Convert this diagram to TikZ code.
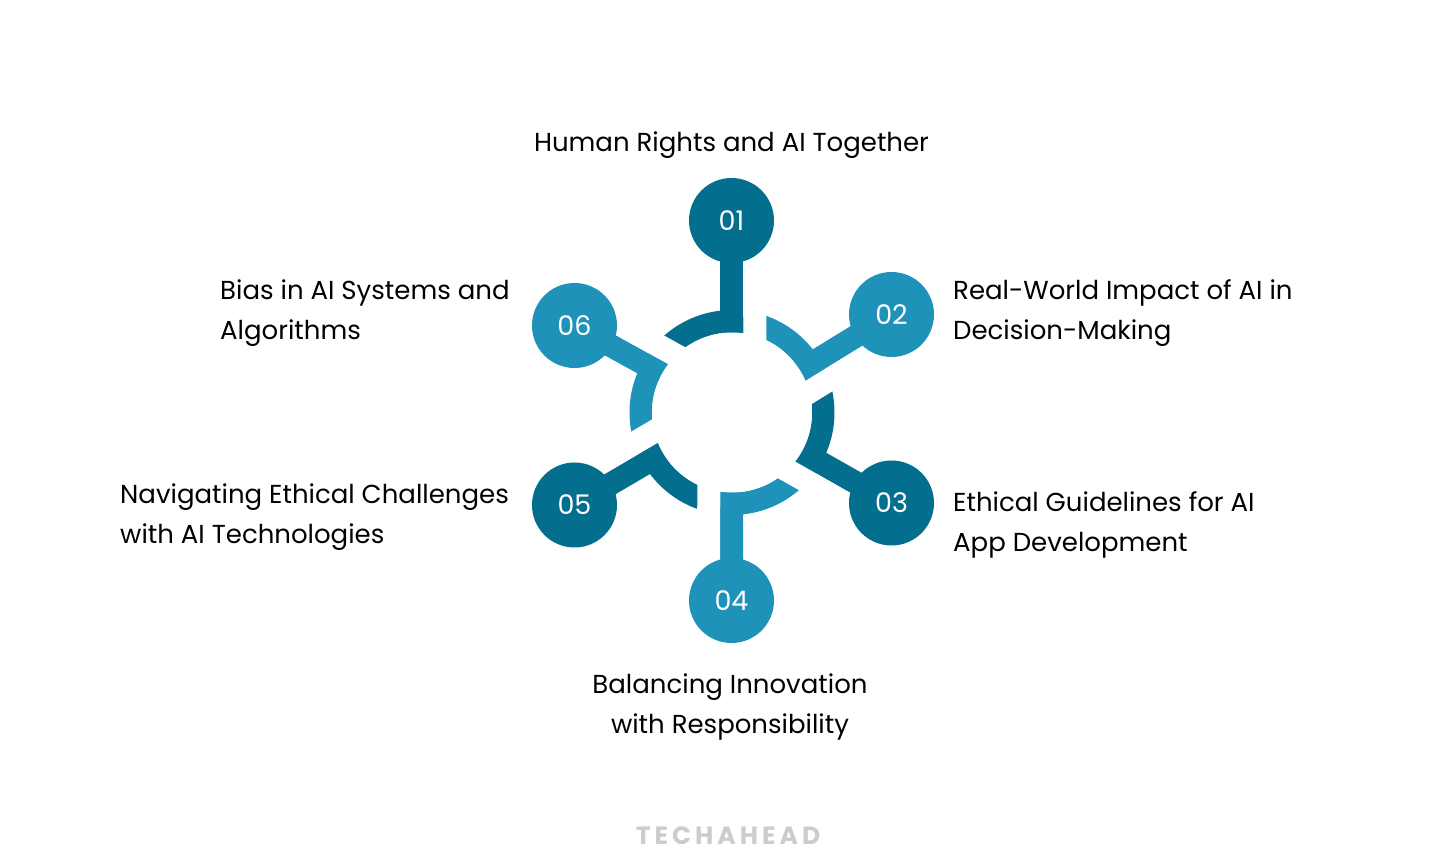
\documentclass[tikz,border=0pt]{standalone}
\usepackage{fontspec}
\setmainfont{Poppins}
\newfontfamily\markfont[LetterSpace=16]{Poppins}
\usetikzlibrary{calc}
\definecolor{darkteal}{RGB}{4,110,143}
\definecolor{lightteal}{RGB}{30,146,184}
\definecolor{markgray}{RGB}{204,204,204}
\begin{document}
\begin{tikzpicture}[x=1pt,y=1pt,line join=round,
	num/.style={circle,minimum size=85pt,inner sep=0pt,text=white,font=\fontsize{27}{27}\selectfont},
	stem/.style={line width=23pt},
	gap/.style={white,line width=23pt},
	itemtext/.style={align=left,inner sep=0pt,font=\fontsize{26}{40}\selectfont}]
	\useasboundingbox (-732,-453.5) rectangle (724,412.5);
	\coordinate (o) at (0,0);
	\coordinate (p1) at (-0.5,192);
	\coordinate (p2) at (159.5,98);
	\coordinate (p3) at (159.5,-90.5);
	\coordinate (p4) at (-0.5,-188);
	\coordinate (p5) at (-157.5,-92.5);
	\coordinate (p6) at (-157.5,87);
	% ring pieces
	\foreach \a/\c in {90/darkteal,30/lightteal,-30/darkteal,-90/lightteal,-150/darkteal,150/lightteal}
		\fill[\c] (\a:102.5) arc[start angle=\a,delta angle=60,radius=102.5]
		-- ({\a+60}:80) arc[start angle={\a+60},delta angle=-60,radius=80] -- cycle;
	% stems
	\draw[stem,darkteal] (o) -- (p1);
	\draw[stem,lightteal] (o) -- (p2);
	\draw[stem,darkteal] (o) -- (p3);
	\draw[stem,lightteal] (o) -- (p4);
	\draw[stem,darkteal] (o) -- (p5);
	\draw[stem,lightteal] (o) -- (p6);
	% cuts
	\foreach \i in {1,...,6}
		\draw[gap] ($(o)!23pt!-90:(p\i)$) -- ($(p\i)!23pt!90:(o)$);
	\fill[white] (o) circle (80);
	% numbers
	\node[num,fill=darkteal] (c1) at (p1) {01};
	\node[num,fill=lightteal] (c2) at (p2) {02};
	\node[num,fill=darkteal] (c3) at (p3) {03};
	\node[num,fill=lightteal] (c4) at (p4) {04};
	\node[num,fill=darkteal] (c5) at (p5) {05};
	\node[num,fill=lightteal] (c6) at (p6) {06};
	% texts (base = last line)
	\node[itemtext,anchor=base] (t1) at (-0.5,260.5) {Human Rights and AI Together};
	\node[itemtext,anchor=base west] (t2) at (221,72.5) {Real-World Impact of AI in\\Decision-Making};
	\node[itemtext,anchor=base west] (t3) at (221,-139.5) {Ethical Guidelines for AI\\App Development};
	\node[itemtext,anchor=base,align=center] (t4) at (-2,-321.5) {Balancing Innovation\\with Responsibility};
	\node[itemtext,anchor=base west] (t5) at (-612,-131.5) {Navigating Ethical Challenges\\with AI Technologies};
	\node[itemtext,anchor=base west] (t6) at (-512,72.5) {Bias in AI Systems and\\Algorithms};
	\node[text=markgray,font=\markfont\bfseries\fontsize{25}{25}\selectfont] (mark) at (-4,-423.5) {TECHAHEAD};
\end{tikzpicture}
\end{document}
